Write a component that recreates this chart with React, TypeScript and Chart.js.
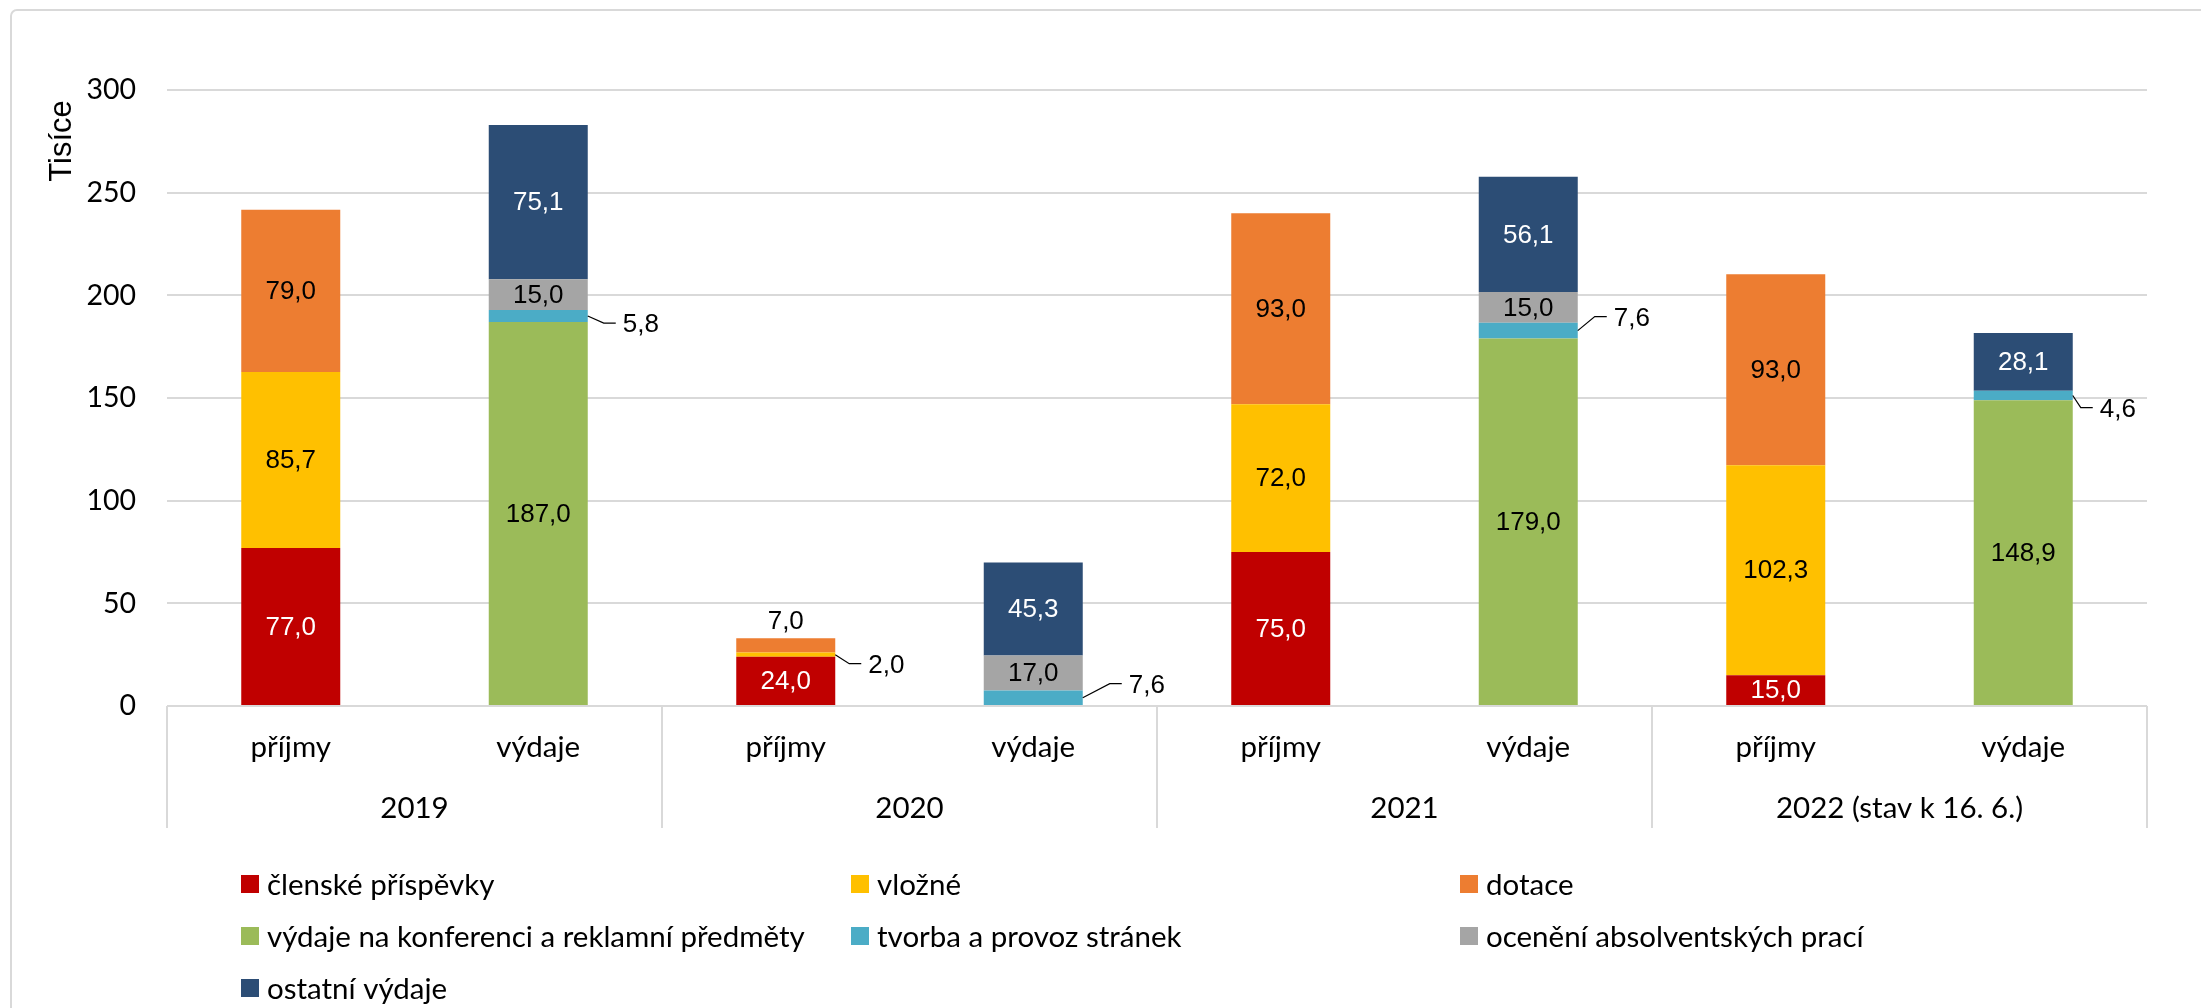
import React, { useEffect, useRef } from 'react';
import { Chart, registerables } from 'chart.js';

Chart.register(...registerables);

// ---------- DATA ----------
const subCategories = ['příjmy', 'výdaje', 'příjmy', 'výdaje', 'příjmy', 'výdaje', 'příjmy', 'výdaje'];
const groupLabels = ['2019', '2020', '2021', '2022 (stav k 16. 6.)'];
const seriesNames = [
  'členské příspěvky',
  'vložné',
  'dotace',
  'výdaje na konferenci a reklamní předměty',
  'tvorba a provoz stránek',
  'ocenění absolventských prací',
  'ostatní výdaje',
];
const clenskePrispevky = [77.0, null, 24.0, null, 75.0, null, 15.0, null];
const vlozne = [85.7, null, 2.0, null, 72.0, null, 102.3, null];
const dotace = [79.0, null, 7.0, null, 93.0, null, 93.0, null];
const vydajeKonference = [null, 187.0, null, null, null, 179.0, null, 148.9];
const tvorbaStranek = [null, 5.8, null, 7.6, null, 7.6, null, 4.6];
const oceneniPraci = [null, 15.0, null, 17.0, null, 15.0, null, null];
const ostatniVydaje = [null, 75.1, null, 45.3, null, 56.1, null, 28.1];
const yMin = 0;
const yMax = 300;
const yStep = 50;
const yTitle = 'Tisíce';

// ---------- STYLE ----------
const seriesColors = ['#C00000', '#FFC000', '#ED7D31', '#9BBB59', '#4BACC6', '#A5A5A5', '#2C4D75'];
const whiteLabelSeries = [0, 6];
const GRID = '#d9d9d9';
const AXIS_FONT = 'Lato, "Open Sans", sans-serif';
const VALUE_FONT = '"Liberation Sans", Arial, sans-serif';
// callouts: label drawn outside the bar with a leader line (dataset, index, elbow offset)
const callouts = [
  { ds: 4, idx: 1, dx: 16, dy: 7 },
  { ds: 1, idx: 2, dx: 14, dy: 9 },
  { ds: 4, idx: 3, dx: 27, dy: -14 },
  { ds: 4, idx: 5, dx: 17, dy: -14 },
  { ds: 4, idx: 7, dx: 8, dy: 12 },
];
const aboveLabels = [{ ds: 2, idx: 2 }];
const legendCols = [241, 851, 1460];
const legendRows = [884, 936, 988];

const fmt = (v: number) => v.toFixed(1).replace('.', ',');

const decorPlugin = {
  id: 'decor',
  beforeDraw(chart: any) {
    const ctx = chart.ctx;
    ctx.save();
    ctx.fillStyle = '#ffffff';
    ctx.fillRect(0, 0, chart.width, chart.height);
    // outer frame (top + left, rounded corner)
    ctx.strokeStyle = GRID;
    ctx.lineWidth = 2;
    ctx.beginPath();
    ctx.moveTo(11, chart.height + 5);
    ctx.lineTo(11, 16);
    ctx.arcTo(11, 10, 17, 10, 6);
    ctx.lineTo(chart.width + 5, 10);
    ctx.stroke();
    ctx.restore();
  },
  afterDraw(chart: any) {
    const ctx = chart.ctx;
    const xs = chart.scales.x;
    const area = chart.chartArea;
    ctx.save();
    // y title
    ctx.save();
    ctx.translate(62, 141);
    ctx.rotate(-Math.PI / 2);
    ctx.font = `31px ${VALUE_FONT}`;
    ctx.fillStyle = '#000';
    ctx.textAlign = 'center';
    ctx.textBaseline = 'middle';
    ctx.fillText(yTitle, 0, 0);
    ctx.restore();

    // category separators
    const nSub = subCategories.length / groupLabels.length;
    const bounds: number[] = [area.left];
    for (let g = 1; g < groupLabels.length; g++) {
      const i = g * nSub;
      bounds.push((xs.getPixelForValue(i - 1) + xs.getPixelForValue(i)) / 2);
    }
    bounds.push(area.right);
    ctx.strokeStyle = GRID;
    ctx.lineWidth = 2;
    bounds.forEach((bx) => {
      ctx.beginPath();
      ctx.moveTo(bx, area.bottom);
      ctx.lineTo(bx, area.bottom + 122);
      ctx.stroke();
    });

    // sub labels
    ctx.fillStyle = '#000';
    ctx.font = `29.5px ${AXIS_FONT}`;
    ctx.textAlign = 'center';
    ctx.textBaseline = 'alphabetic';
    subCategories.forEach((lab, i) => {
      ctx.fillText(lab, xs.getPixelForValue(i), area.bottom + 51);
    });
    // group labels
    groupLabels.forEach((lab, g) => {
      ctx.fillText(lab, (bounds[g] + bounds[g + 1]) / 2, area.bottom + 112);
    });

    // legend
    ctx.textAlign = 'left';
    ctx.textBaseline = 'middle';
    chart.data.datasets.forEach((ds: any, i: number) => {
      const cx = legendCols[i % 3];
      const cy = legendRows[Math.floor(i / 3)];
      ctx.fillStyle = ds.backgroundColor;
      ctx.fillRect(cx, cy - 9, 18, 18);
      ctx.fillStyle = '#000';
      ctx.fillText(ds.label, cx + 26, cy + 1);
    });
    ctx.restore();
  },
  afterDatasetsDraw(chart: any) {
    const ctx = chart.ctx;
    ctx.save();
    ctx.font = `26px ${VALUE_FONT}`;
    chart.data.datasets.forEach((ds: any, di: number) => {
      const meta = chart.getDatasetMeta(di);
      meta.data.forEach((el: any, i: number) => {
        const v = ds.data[i];
        if (v === null || v === undefined) return;
        const top = Math.min(el.y, el.base);
        const bottom = Math.max(el.y, el.base);
        const cy = (top + bottom) / 2;
        const right = el.x + el.width / 2;
        const co = callouts.find((c) => c.ds === di && c.idx === i);
        const ab = aboveLabels.find((c) => c.ds === di && c.idx === i);
        ctx.fillStyle = '#000';
        if (co) {
          const ex = right + co.dx;
          const ey = cy + co.dy;
          ctx.strokeStyle = '#000';
          ctx.lineWidth = 1.2;
          ctx.beginPath();
          ctx.moveTo(right, cy);
          ctx.lineTo(ex, ey);
          ctx.lineTo(ex + 12, ey);
          ctx.stroke();
          ctx.textAlign = 'left';
          ctx.textBaseline = 'middle';
          ctx.fillText(fmt(v), ex + 19, ey + 2);
        } else if (ab) {
          ctx.textAlign = 'center';
          ctx.textBaseline = 'middle';
          ctx.fillText(fmt(v), el.x, top - 16);
        } else {
          ctx.textAlign = 'center';
          ctx.textBaseline = 'middle';
          ctx.fillStyle = whiteLabelSeries.includes(di) ? '#ffffff' : '#000000';
          ctx.fillText(fmt(v), el.x, cy + 1);
        }
      });
    });
    ctx.restore();
  },
};

export default function App() {
  const ref = useRef<HTMLCanvasElement>(null);
  useEffect(() => {
    const series = [clenskePrispevky, vlozne, dotace, vydajeKonference, tvorbaStranek, oceneniPraci, ostatniVydaje];
    const chart = new Chart(ref.current as HTMLCanvasElement, {
      type: 'bar',
      data: {
        labels: subCategories,
        datasets: series.map((d, i) => ({
          label: seriesNames[i],
          data: d,
          backgroundColor: seriesColors[i],
          borderWidth: 0,
          stack: 's',
          barPercentage: 0.4,
          categoryPercentage: 1.0,
        })),
      },
      options: {
        animation: false,
        responsive: false,
        devicePixelRatio: 1,
        layout: { padding: { top: 90, right: 54, bottom: 0, left: 0 } },
        plugins: { legend: { display: false }, tooltip: { enabled: false }, title: { display: false } },
        scales: {
          x: {
            stacked: true,
            offset: true,
            grid: { display: false },
            border: { display: false },
            ticks: { display: false },
            afterFit: (s: any) => {
              s.height = 302;
            },
          },
          y: {
            stacked: true,
            min: yMin,
            max: yMax,
            grid: { color: GRID, lineWidth: 2, drawTicks: false },
            border: { display: false },
            ticks: {
              stepSize: yStep,
              padding: 31,
              color: '#000',
              font: { family: AXIS_FONT, size: 28.5 },
            },
            afterFit: (s: any) => {
              s.width = 167;
            },
          },
        },
      },
      plugins: [decorPlugin],
    } as any);
    return () => chart.destroy();
  }, []);
  return (
    <div style={{ position: 'fixed', left: 0, top: 0, width: 2201, height: 1008, background: '#fff' }}>
      <canvas ref={ref} width={2201} height={1008} style={{ display: 'block', width: 2201, height: 1008 }} />
    </div>
  );
}
